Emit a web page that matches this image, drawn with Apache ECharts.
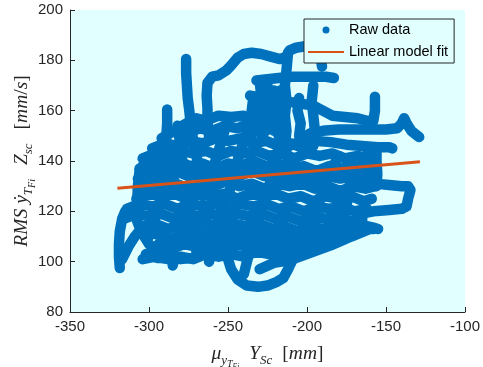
<!DOCTYPE html>
<html>
<head>
<meta charset="utf-8">
<script src="https://cdn.jsdelivr.net/npm/echarts@6/dist/echarts.min.js"></script>
<style>html,body{margin:0;padding:0;background:#fff}#c{width:483px;height:367px}</style>
</head>
<body>
<div id="c"></div>
<script>
// ---- axis ticks ----
const xTicks = [-350, -300, -250, -200, -150, -100];
const yTicks = [80, 100, 120, 140, 160, 180, 200];

// ---- linear model fit (endpoints) ----
const fitX = [-320, -128.5];
const fitY = [129.2, 139.7];

// ---- raw data trajectories, [x, y] pairs ----
// outer / distinctive strands
const pathA = [[-276.5,180.5],[-276.5,175],[-276,170],[-275.5,165],[-274.5,160],[-273.5,154],[-272,148],[-270,142],[-268,136]];
const pathB = [[-262,150],[-263,156],[-263,161],[-263.5,166],[-263,171],[-260,173.5],[-256,174],[-251,176],[-248,178],[-244,181],[-240,182.5],[-235,183],[-229,182.5],[-223,181.5],[-217,180.5],[-213,181.5],[-211,184],[-207,185],[-202,185.5],[-197,186.5],[-194,186.5],[-192,183],[-191,180],[-190.5,177.5]];
const pathC = [[-232,172],[-225,172.5],[-218,173],[-210,173.5],[-202,173.5],[-195,173.5],[-188,173.5],[-183,173]];
const pathD = [[-212,183],[-213,176],[-214,170],[-213,164],[-214,158],[-213,152],[-214,146],[-212,140],[-213,134]];
const pathE = [[-230,172],[-229,166],[-230,160],[-229,154],[-228,148]];
const pathF = [[-221,168],[-222,162],[-220,158],[-221,152]];
const pathG = [[-196,170],[-197,164],[-196,158],[-195,152],[-196,146]];
const pathH = [[-236,166],[-226,165],[-216,164],[-206,163],[-196,162],[-190,160],[-184,158],[-176,157.5],[-168,157],[-162,156],[-158,156],[-157,160],[-157,165.5]];
const pathI = [[-205,148],[-198,151],[-190,152],[-180,152.5],[-170,152.5],[-160,152.5],[-150,152.5],[-143,153],[-140,155],[-138.5,157],[-137,155],[-134,152],[-131,150.5],[-129,149.5]];
const pathJ = [[-215,145],[-205,147.5],[-195,148],[-185,147.5],[-175,146.5],[-165,146],[-155,145.5],[-148,145.5],[-146,145]];
const pathK = [[-156,145],[-156,140],[-155.5,135],[-156,130]];
const pathL = [[-175,133],[-165,131.5],[-157,131],[-148,130.5],[-140,130],[-136,130],[-134.5,128.5],[-136,125],[-137,122],[-140,121],[-148,120.5],[-158,120],[-166,119]];
const pathM = [[-185,118],[-175,116],[-165,114.5],[-158,113.5],[-155,113]];
const pathN = [[-230,97],[-221,99.5],[-211,100.5],[-198,103.5],[-185,106.5],[-172,110],[-162,112.5]];
const pathO = [[-255,110],[-251,103],[-248,97],[-244,93],[-238,90.5],[-231,90],[-225,90.5],[-219,92],[-215,93.5],[-212,97],[-209,101]];
const pathP = [[-318.5,97.5],[-319,102],[-319,107],[-318.5,112],[-317,117],[-315,120],[-311,121],[-308,117],[-305,112],[-300,107],[-295,104],[-290,103]];
const pathQ = [[-317,101],[-313,106],[-309,110],[-305,113],[-300,114],[-294,112]];
const pathR = [[-307,118],[-307.5,124],[-307,130],[-306,136],[-302,140],[-296,141],[-291,140]];
const pathS = [[-302,103],[-295,101.5],[-288,101.5],[-280,101],[-272,101.5],[-266,103],[-258,104]];
const pathT = [[-285,98.5],[-284,101]];
const pathU = [[-288.5,160.5],[-288.5,155],[-289,150],[-290,145],[-291,140],[-292,134]];
const pathV = [[-282,154],[-281,150],[-280,146],[-279,140]];
const pathW = [[-234,165],[-235,160],[-234,155],[-235,150]];
const pathX = [[-225,170],[-226,164],[-225,158],[-226,152]];
const pathY = [[-217,168],[-218,162],[-217,156],[-218,150]];
const pathZ = [[-205,165],[-206,160],[-204,155],[-205,150]];
// dense core, wandering strands
const h155 = [[-282,153],[-276,155],[-270,157],[-264,156],[-256,158],[-248,157.5],[-240,158],[-234,156]];
const h150 = [[-292,149],[-284,152],[-276,151],[-268,153],[-260,152],[-252,154],[-244,153],[-236,155]];
const h146 = [[-298,145],[-290,147],[-282,146],[-274,148],[-266,147],[-258,149],[-250,148],[-242,149],[-234,147],[-226,148],[-218,146],[-210,147],[-202,145]];
const h142 = [[-304,141],[-296,143],[-288,142],[-280,144],[-272,143],[-264,144],[-256,142],[-248,144],[-240,143],[-232,144],[-224,142],[-216,143],[-208,141],[-200,143],[-192,142],[-184,143],[-176,141],[-168,142],[-161,141]];
const h138 = [[-306,137],[-298,139],[-290,138],[-282,140],[-274,138],[-266,139],[-258,137],[-250,139],[-242,138],[-234,140],[-226,138],[-218,139],[-210,137],[-202,138],[-194,136],[-186,138],[-178,137],[-170,138],[-162,137],[-157,138]];
const h134 = [[-307,133],[-299,135],[-291,134],[-283,136],[-275,134],[-267,135],[-259,133],[-251,135],[-243,134],[-235,136],[-227,134],[-219,135],[-211,133],[-203,134],[-195,132],[-187,134],[-179,133],[-171,134],[-163,133],[-156,134]];
const h130 = [[-307,129],[-299,131],[-291,130],[-283,131],[-275,129],[-267,131],[-259,130],[-251,132],[-243,130],[-235,131],[-227,129],[-219,131],[-211,130],[-203,131],[-195,129],[-187,130],[-179,128],[-171,130],[-163,129],[-157,130]];
const h126 = [[-308,125],[-300,127],[-292,126],[-284,127],[-276,125],[-268,127],[-260,126],[-252,127],[-244,125],[-236,127],[-228,126],[-220,127],[-212,125],[-204,126],[-196,124],[-188,126],[-180,125],[-172,126],[-164,124],[-159,125]];
const h122 = [[-314,121],[-306,123],[-298,122],[-290,123],[-282,121],[-274,123],[-266,122],[-258,123],[-250,121],[-242,123],[-234,122],[-226,123],[-218,121],[-210,122],[-202,120],[-194,122],[-186,121],[-178,122],[-170,120],[-162,121]];
const h118 = [[-316,117],[-308,119],[-300,118],[-292,119],[-284,117],[-276,119],[-268,118],[-260,119],[-252,117],[-244,119],[-236,118],[-228,119],[-220,117],[-212,118],[-204,116],[-196,118],[-188,117],[-180,118],[-172,116],[-165,117]];
const h114 = [[-304,114],[-296,115],[-288,113],[-278,115],[-270,114],[-262,115],[-254,113],[-246,115],[-238,114],[-230,115],[-222,113],[-214,114],[-206,112],[-198,114],[-190,113],[-182,114],[-174,112],[-166,113],[-158,113]];
const h110 = [[-296,111],[-286,109],[-278,111],[-270,110],[-262,111],[-254,109],[-246,111],[-238,110],[-230,111],[-222,109],[-214,110],[-206,108],[-198,110],[-190,109],[-182,110],[-176,109]];
const h106 = [[-294,107],[-286,105],[-278,107],[-270,106],[-262,107],[-254,105],[-246,107],[-238,106],[-230,107],[-222,105],[-214,106],[-206,105],[-198,106],[-190,107]];
const h102 = [[-304,101],[-296,102],[-288,101],[-280,102],[-272,101],[-264,103],[-256,102],[-248,103],[-240,102],[-232,104],[-224,103],[-216,104],[-208,103],[-200,104]];
const diag1 = [[-300,110],[-296,118],[-292,126],[-286,132],[-280,138]];
const diag2 = [[-262,100],[-258,110],[-254,120],[-248,130],[-244,140],[-240,148],[-236,155]];
const diag3 = [[-240,95],[-236,105],[-232,115],[-226,125],[-222,135],[-218,145]];
const diag4 = [[-200,105],[-196,115],[-192,125],[-186,135],[-180,142]];
const diag5 = [[-180,110],[-176,120],[-172,130],[-166,138],[-160,145]];
const diag6 = [[-270,104],[-272,114],[-276,124],[-280,130]];
const diag7 = [[-250,157],[-254,148],[-258,140],[-262,132],[-266,126]];

const rawPaths = [h155, h150, h146, h142, h138, h134, h130, h126, h122, h118, h114, h110, h106, h102,
  diag1, diag2, diag3, diag4, diag5, diag6, diag7,
  pathA, pathB, pathC, pathD, pathE, pathF, pathG, pathH, pathI, pathJ, pathK, pathL,
  pathM, pathN, pathO, pathP, pathQ, pathR, pathS, pathT, pathU, pathV, pathW, pathX, pathY, pathZ];

const BLUE = '#0072BD';
const ORANGE = '#D95319';
const AXC = '#262626';
const BG = '#e1ffff';

const chart = echarts.init(document.getElementById('c'), null, {renderer: 'canvas'});

const series = rawPaths.map(p => ({
  type: 'line', name: 'Raw data', data: p, symbol: 'none',
  silent: true, animation: false, z: 2,
  itemStyle: {color: BLUE},
  lineStyle: {color: BLUE, width: 10.5, cap: 'round', join: 'round'}
}));
series.push({
  type: 'line', name: 'Linear model fit', symbol: 'none', silent: true, animation: false, z: 5,
  data: fitX.map((x, i) => [x, fitY[i]]),
  itemStyle: {color: ORANGE},
  lineStyle: {color: ORANGE, width: 3}
});

const SERIF = 'Liberation Serif';
const rich = {
  i: {fontFamily: SERIF, fontStyle: 'italic', fontSize: 19.5, verticalAlign: 'bottom', padding: [0, 0, 7, 0], color: AXC},
  r: {fontFamily: SERIF, fontSize: 19.5, verticalAlign: 'bottom', padding: [0, 0, 7, 0], color: AXC},
  s1: {fontFamily: SERIF, fontStyle: 'italic', fontSize: 13, verticalAlign: 'bottom', padding: [0, 0, 4, 0], color: AXC},
  s2: {fontFamily: SERIF, fontStyle: 'italic', fontSize: 10, verticalAlign: 'bottom', padding: [0, 0, 2, 0], color: AXC},
  s3: {fontFamily: SERIF, fontStyle: 'italic', fontSize: 7.5, verticalAlign: 'bottom', padding: [0, 0, 0, 0], color: AXC},
  g: {fontSize: 19.5, verticalAlign: 'bottom', width: 10, padding: [0, 0, 7, 0]},
  gy: {fontSize: 19.5, verticalAlign: 'bottom', width: 14, padding: [0, 0, 7, 0]},
  gs: {fontSize: 19.5, verticalAlign: 'bottom', width: 5, padding: [0, 0, 7, 0]}
};

chart.setOption({
  animation: false,
  backgroundColor: '#ffffff',
  grid: {left: 70, right: 18, top: 10, bottom: 55, show: true, backgroundColor: BG, borderWidth: 0,
         containLabel: false, outerBoundsMode: 'none'},
  legend: {
    left: 304, top: 19, orient: 'vertical', itemWidth: 36, itemHeight: 7, itemGap: 0,
    padding: [0, 6, 0, 4],
    backgroundColor: BG, borderColor: AXC, borderWidth: 1, borderRadius: 0,
    textStyle: {fontFamily: 'Liberation Sans', fontSize: 14.5, color: '#000', lineHeight: 22},
    data: [
      {name: 'Raw data', icon: 'circle'},
      {name: 'Linear model fit', icon: 'path://M0,0L36,0L36,2L0,2Z'}
    ]
  },
  xAxis: {
    type: 'value', min: xTicks[0], max: xTicks[xTicks.length - 1], interval: 50,
    axisLine: {lineStyle: {color: AXC, width: 1}},
    axisTick: {inside: true, length: 5, lineStyle: {color: AXC}},
    splitLine: {show: false},
    axisLabel: {fontFamily: 'Liberation Sans', fontSize: 15, color: AXC, margin: 7},
    name: '{i|μ}{s1|y}{s2|T}{s3|Fi}{g| }{i|Y}{s1|Sc}{g| }{r|[}{i|mm}{r|]}',
    nameLocation: 'middle', nameGap: 32, nameMoveOverlap: false,
    nameTextStyle: {rich: rich}
  },
  yAxis: {
    type: 'value', min: yTicks[0], max: yTicks[yTicks.length - 1], interval: 20,
    axisLine: {show: true, lineStyle: {color: AXC, width: 1}},
    axisTick: {show: true, inside: true, length: 5, lineStyle: {color: AXC}},
    splitLine: {show: false},
    axisLabel: {fontFamily: 'Liberation Sans', fontSize: 15, color: AXC, margin: 7},
    name: '{i|RMS}{gs| }{i|ẏ}{s1|T}{s2|Fi}{gy| }{i|Z}{s1|sc}{gy| }{r|[}{i|mm}{r|/}{i|s}{r|]}',
    nameLocation: 'middle', nameGap: 31, nameRotate: 90, nameMoveOverlap: false,
    nameTextStyle: {rich: rich}
  },
  series: series
});
</script>
</body>
</html>
